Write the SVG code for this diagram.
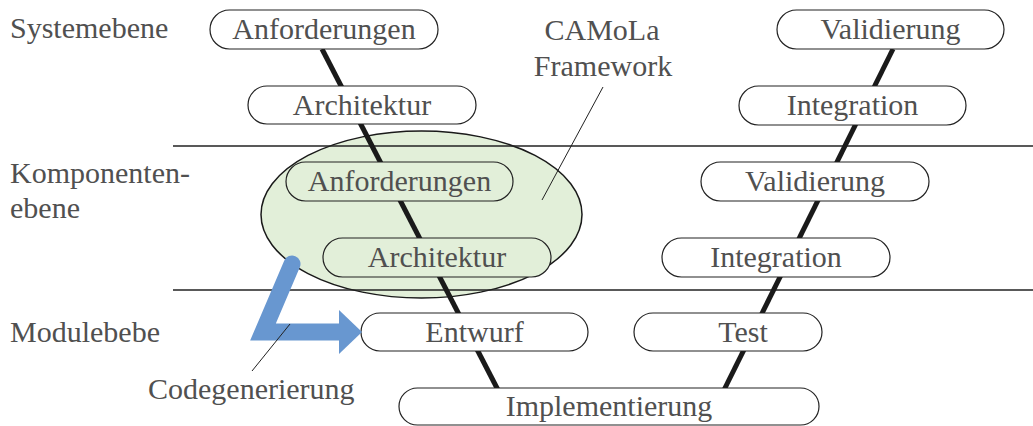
<svg xmlns="http://www.w3.org/2000/svg" width="1033" height="426" viewBox="0 0 1033 426">
  <style>
    .box { fill: #ffffff; stroke: #222222; stroke-width: 1.2; }
    .box.scope { fill: #e2efd9; }
    .vline { stroke: #1a1a1a; stroke-width: 5; fill: none; }
    .sep { stroke: #222222; stroke-width: 1.5; }
    .leader { stroke: #222222; stroke-width: 1; fill: none; }
  </style>

  <!-- framework scope around the component level -->
  <g id="camola-framework">
    <ellipse cx="421.5" cy="214.5" rx="160.5" ry="83.5" fill="#e2efd9" stroke="#1a1a1a" stroke-width="1.5"/>
    <line class="leader" x1="603" y1="87" x2="542" y2="200"/>
    <text x="602" y="40" text-anchor="middle" font-family="'Liberation Serif', serif" font-size="30" fill="#505050">CAMoLa</text>
    <text x="603" y="76" text-anchor="middle" font-family="'Liberation Serif', serif" font-size="30" fill="#505050">Framework</text>
  </g>

  <!-- level separators -->
  <g id="separators">
    <line class="sep" x1="173" y1="146" x2="1033" y2="146"/>
    <line class="sep" x1="173" y1="290" x2="1033" y2="290"/>
  </g>

  <!-- level labels -->
  <g id="levels">
    <text x="10" y="38" font-family="'Liberation Serif', serif" font-size="30" fill="#505050">Systemebene</text>
    <text x="10" y="183" font-family="'Liberation Serif', serif" font-size="30" fill="#505050">Komponenten-</text>
    <text x="10" y="218" font-family="'Liberation Serif', serif" font-size="30" fill="#505050">ebene</text>
    <text x="10" y="342" font-family="'Liberation Serif', serif" font-size="30" fill="#505050">Modulebebe</text>
  </g>

  <!-- the two legs of the V -->
  <g id="connectors">
    <line class="vline" x1="322" y1="49" x2="498" y2="390"/>
    <line class="vline" x1="893" y1="49" x2="724" y2="390"/>
  </g>

  <!-- left leg -->
  <g id="sys-anforderungen">
    <rect class="box" x="210" y="10" width="228" height="39" rx="19.5"/>
    <text x="324" y="38.5" text-anchor="middle" font-family="'Liberation Serif', serif" font-size="30" fill="#505050">Anforderungen</text>
  </g>
  <g id="sys-architektur">
    <rect class="box" x="248" y="86" width="228" height="38" rx="19"/>
    <text x="362" y="114.5" text-anchor="middle" font-family="'Liberation Serif', serif" font-size="30" fill="#505050">Architektur</text>
  </g>
  <g id="komp-anforderungen">
    <rect class="box scope" x="286" y="162" width="227" height="39" rx="19.5"/>
    <text x="399.5" y="190.5" text-anchor="middle" font-family="'Liberation Serif', serif" font-size="30" fill="#505050">Anforderungen</text>
  </g>
  <g id="komp-architektur">
    <rect class="box scope" x="323" y="238" width="228" height="39" rx="19.5"/>
    <text x="437" y="266.5" text-anchor="middle" font-family="'Liberation Serif', serif" font-size="30" fill="#505050">Architektur</text>
  </g>
  <g id="entwurf">
    <rect class="box" x="361" y="313" width="227" height="38" rx="19"/>
    <text x="474.5" y="341.5" text-anchor="middle" font-family="'Liberation Serif', serif" font-size="30" fill="#505050">Entwurf</text>
  </g>

  <!-- bottom -->
  <g id="implementierung">
    <rect class="box" x="399" y="388" width="420" height="37" rx="18.5"/>
    <text x="609" y="416" text-anchor="middle" font-family="'Liberation Serif', serif" font-size="30" fill="#505050">Implementierung</text>
  </g>

  <!-- right leg -->
  <g id="test">
    <rect class="box" x="634" y="313" width="188" height="38" rx="19"/>
    <text x="743" y="341.5" text-anchor="middle" font-family="'Liberation Serif', serif" font-size="30" fill="#505050">Test</text>
  </g>
  <g id="komp-integration">
    <rect class="box" x="662" y="238" width="228" height="39" rx="19.5"/>
    <text x="776" y="266.5" text-anchor="middle" font-family="'Liberation Serif', serif" font-size="30" fill="#505050">Integration</text>
  </g>
  <g id="komp-validierung">
    <rect class="box" x="701" y="162" width="228" height="39" rx="19.5"/>
    <text x="815" y="190.5" text-anchor="middle" font-family="'Liberation Serif', serif" font-size="30" fill="#505050">Validierung</text>
  </g>
  <g id="sys-integration">
    <rect class="box" x="739" y="86" width="227" height="39" rx="19.5"/>
    <text x="852.5" y="114.5" text-anchor="middle" font-family="'Liberation Serif', serif" font-size="30" fill="#505050">Integration</text>
  </g>
  <g id="sys-validierung">
    <rect class="box" x="777" y="10" width="227" height="39" rx="19.5"/>
    <text x="890.5" y="38.5" text-anchor="middle" font-family="'Liberation Serif', serif" font-size="30" fill="#505050">Validierung</text>
  </g>

  <!-- code generation arrow -->
  <g id="codegenerierung">
    <polyline points="292,264 263,332 341,332" fill="none" stroke="#6897d0" stroke-width="17" stroke-linecap="round" stroke-linejoin="miter"/>
    <polygon points="339,310 362,332 339,354" fill="#6897d0"/>
    <line class="leader" x1="290" y1="324" x2="252" y2="371"/>
    <text x="148" y="399" font-family="'Liberation Serif', serif" font-size="30" fill="#505050">Codegenerierung</text>
  </g>
</svg>
